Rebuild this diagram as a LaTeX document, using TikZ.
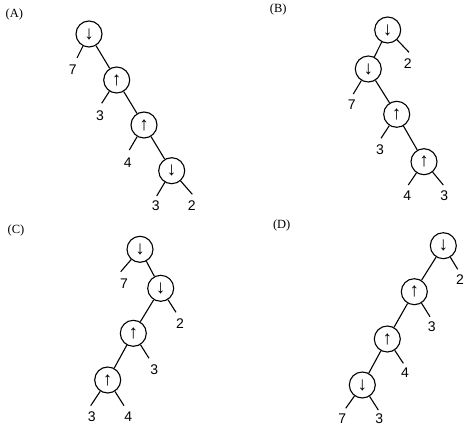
\documentclass[tikz,border=0pt]{standalone}
\usepackage{fontspec}
\setmainfont{Liberation Serif}
\newfontfamily\leaffont{Liberation Sans}
\usepackage{tikz}

\begin{document}
\begin{tikzpicture}[x=1pt, y=-1pt, line width=1.1pt]
   \useasboundingbox (0,0) rectangle (470,435);
   \begin{scope}[every node/.style={font=\fontsize{12.5}{14}\selectfont}]
    \node (pa) at (14.3,14) {(A)};
    \node (pb) at (278.3,9.3) {(B)};
    \node (pc) at (16,230) {(C)};
    \node (pd) at (281.7,225) {(D)};
   \end{scope}
   \begin{scope}[every node/.style={circle,draw=black,line width=1.1pt,minimum size=26pt,inner sep=0pt,font=\leaffont\fontsize{19}{20}\selectfont}]
    \node (a1) at (89,34) {↓};
    \node (a2) at (116.7,80) {↑};
    \node (a3) at (144,125) {↑};
    \node (a4) at (171.7,170.7) {↓};
    \node (b1) at (387.7,30) {↓};
    \node (b2) at (368.3,69) {↓};
    \node (b3) at (396.7,114.3) {↑};
    \node (b4) at (424,161.7) {↑};
    \node (c1) at (140,249.3) {↓};
    \node (c2) at (160.7,288.3) {↓};
    \node (c3) at (133.3,333.3) {↑};
    \node (c4) at (107.7,380) {↑};
    \node (d1) at (443.3,245.7) {↓};
    \node (d2) at (414.3,291.7) {↑};
    \node (d3) at (387.3,339) {↑};
    \node (d4) at (362.3,385) {↓};
   \end{scope}
   \begin{scope}[every node/.style={inner sep=0pt,font=\leaffont\fontsize{14}{16}\selectfont}]
    \coordinate (ae5) at (77,58);       \node (a5) at (72.7,70) {7};
    \coordinate (ae6) at (101.7,103.3); \node (a6) at (100,116) {3};
    \coordinate (ae7) at (129.3,150);   \node (a7) at (127.7,162.7) {4};
    \coordinate (ae8) at (156.7,196);   \node (a8) at (155.7,206) {3};
    \coordinate (ae9) at (192.3,194.3); \node (a9) at (191.7,206) {2};
    \coordinate (be5) at (409,52.3);    \node (b5) at (407.7,64) {2};
    \coordinate (be6) at (353.3,94);    \node (b6) at (351.7,105) {7};
    \coordinate (be7) at (381,138.3);   \node (b7) at (380,150) {3};
    \coordinate (be8) at (408.3,185);   \node (b8) at (407.3,196) {4};
    \coordinate (be9) at (443.3,185);   \node (b9) at (444.3,196) {3};
    \coordinate (ce5) at (120.7,271.7); \node (c5) at (124,283.3) {7};
    \coordinate (ce6) at (176,312.3);   \node (c6) at (180,323.3) {2};
    \coordinate (ce7) at (149,358.3);   \node (c7) at (154.3,369.3) {3};
    \coordinate (ce8) at (90.7,405.7);  \node (c8) at (91.7,416.7) {3};
    \coordinate (ce9) at (124,405.7);   \node (c9) at (128.3,416.7) {4};
    \coordinate (de5) at (457.7,269.3); \node (d5) at (460,280) {2};
    \coordinate (de6) at (430,316.7);   \node (d6) at (431.7,326.7) {3};
    \coordinate (de7) at (403.3,363.3); \node (d7) at (405,372.7) {4};
    \coordinate (de8) at (345.7,408.3); \node (d8) at (342.3,419) {7};
    \coordinate (de9) at (378.3,410);   \node (d9) at (379.3,419) {3};
   \end{scope}
   \begin{scope}[every edge/.style={draw=black,line width=1.1pt}]
    \draw  (a1) edge (a2);
    \draw  (a2) edge (a3);
    \draw  (a3) edge (a4);
    \draw  (a1) edge (ae5);
    \draw  (a2) edge (ae6);
    \draw  (a3) edge (ae7);
    \draw  (a4) edge (ae8);
    \draw  (a4) edge (ae9);
    \draw  (b1) edge (b2);
    \draw  (b2) edge (b3);
    \draw  (b3) edge (b4);
    \draw  (b1) edge (be5);
    \draw  (b2) edge (be6);
    \draw  (b3) edge (be7);
    \draw  (b4) edge (be8);
    \draw  (b4) edge (be9);
    \draw  (c1) edge (c2);
    \draw  (c2) edge (c3);
    \draw  (c3) edge (c4);
    \draw  (c1) edge (ce5);
    \draw  (c2) edge (ce6);
    \draw  (c3) edge (ce7);
    \draw  (c4) edge (ce8);
    \draw  (c4) edge (ce9);
    \draw  (d1) edge (d2);
    \draw  (d2) edge (d3);
    \draw  (d3) edge (d4);
    \draw  (d1) edge (de5);
    \draw  (d2) edge (de6);
    \draw  (d3) edge (de7);
    \draw  (d4) edge (de8);
    \draw  (d4) edge (de9);
   \end{scope}
\end{tikzpicture}
\end{document}
